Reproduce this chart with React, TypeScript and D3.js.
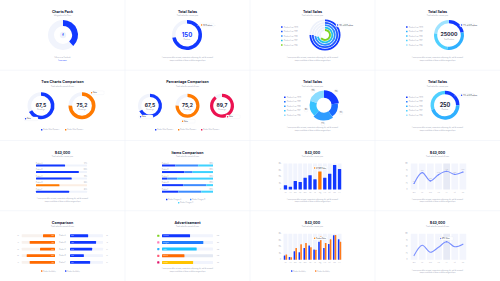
import React from 'react';
import * as d3 from 'd3';

const PW = 125;
const PH = 70.25;
const BLUE = '#1238ff';
const MID = '#2f7dff';
const LIGHT = '#2fb0ff';
const CYAN = '#4fd0ff';
const PALE = '#9fe3ff';
const ORANGE = '#ff7a00';
const RED = '#ec1250';
const GREEN = '#7ed321';
const DARK = '#20243a';
const GREY = '#9aa0b4';
const FONT = 'Inter, Roboto, sans-serif';

const titles = ['Charts Pack', 'Total Sales', 'Total Sales', 'Total Sales', 'Two Charts Comparison', 'Percentage Comparison', 'Total Sales', 'Total Sales', '$43,000', 'Items Comparison', '$43,000', '$43,000', 'Comparison', 'Advertisement', '$43,000', '$43,000'];
const subtitles = ['Infographics for Docs', 'Total sales for current year', 'Total sales for current year', 'Total sales for current year', 'Total sales for period of time', 'Total sales for period of time', 'Total sales for current year', 'Total sales for current year', 'Total sales for current year', 'Total sales for period of time', 'Total sales for current year', 'Total sales for period of time', 'Total sales for period of time', 'Total sales for period of time', 'Total sales for current year', 'Total sales for period of time'];

const chartsPackShare = [0.38];
const totalSales = [150];
const totalSalesShare = [0.72];
const legendLabels = ['Product Line 2020', 'Product Line 2019', 'Product Line 2018', 'Product Line 2017', 'Product Line 2016'];
const radialShares = [0.75, 0.75, 0.73, 0.71, 0.64];
const radialColors = [BLUE, '#1f55ff', '#2f8cff', '#22c0e8', GREEN];
const donutBigTotal = [25000];
const donutBigParts = [22, 30, 25, 23];
const donutBigColors = [BLUE, LIGHT, CYAN, PALE];
const twoValues = [67.5, 75.2];
const twoColors = [BLUE, ORANGE];
const threeValues = [67.5, 75.2, 89.7];
const threeColors = [BLUE, ORANGE, RED];
const pieShares = [23, 17, 22, 18, 20];
const pieColors = [BLUE, '#1a6bff', '#2f9cff', '#37c2ff', '#8bdcff'];
const donutSmallTotal = [250];
const donutSmallParts = [25, 45, 30];
const donutSmallColors = [BLUE, LIGHT, CYAN];
const hbarLabels = ['Product A', 'Product B', 'Product C', 'Product D', 'Product E'];
const hbarValues = [57, 84, 70, 46, 65];
const stackA = [26, 44, 10, 42, 32];
const stackB = [45, 16, 20, 45, 45];
const stackC = [29, 40, 70, 13, 23];
const stackColors = [BLUE, '#3d8bff', '#3fd2ff'];
const stackLegend = ['Product Category A', 'Product Category B', 'Product Category C'];
const months = ['Jan', 'Feb', 'Mar', 'Apr', 'May', 'Jun', 'Jul', 'Aug', 'Sep', 'Oct', 'Nov', 'Dec'];
const monthlySales = [6.4, 4.4, 13.2, 11.6, 18, 22, 15.6, 27.6, 18, 24.4, 37.6, 31.6];
const monthlySalesB = [8, 4, 18, 24, 25.6, 19.2, 15.2, 36.4, 25.6, 31.6, 38, 27.6];
const yTicks = [0, 10, 20, 30, 40];
const days = ['Mon', 'Tue', 'Wed', 'Thu', 'Fri', 'Sat', 'Sun'];
const dailyA = [23, 65, 33, 57, 70, 58, 67];
const dailyB = [16, 56, 29, 48, 69, 50, 60];
const lineTicks = [0, 25, 50, 75, 100];
const butterflyLabels = ['Product A', 'Product B', 'Product C', 'Product D', 'Product E'];
const butterflyLeft = [36, 76, 45, 85, 76];
const butterflyRight = [55, 79, 67, 42, 61];
const adLabels = ['Facebook', 'Instagram', 'Twitter', 'Pinterest', 'YouTube'];
const adValues = [55, 81, 68, 44, 61];
const adColors = [BLUE, '#1f7bff', '#1cc4ff', '#ff6a00', '#ffc400'];
const adIconColors = ['#7ed321', '#ff7ab6', '#2fb0ff', '#ff5d7a', '#e0126a'];

const TAU = Math.PI * 2;
const arcGen = d3.arc<any>();

function Ring({ cx, cy, r0, r1, start, end, color, corner = 0 }: any) {
  const d = arcGen({ innerRadius: r0, outerRadius: r1, startAngle: start, endAngle: end, cornerRadius: corner }) as string;
  return <path d={d} transform={`translate(${cx},${cy})`} fill={color} />;
}

function Title({ i }: { i: number }) {
  return (
    <g fontFamily={FONT} textAnchor="middle">
      <text x={62.5} y={13} fontSize={3.6} fontWeight={700} fill={DARK}>{titles[i]}</text>
      <text x={62.5} y={16.3} fontSize={1.7} fill={GREY}>{subtitles[i]}</text>
    </g>
  );
}

function Foot({ y = 57.5 }: { y?: number }) {
  return (
    <g fontFamily={FONT} textAnchor="middle" fontSize={1.5} fill={GREY}>
      <text x={62.5} y={y}>Lorem ipsum dolor sit amet, consectetur adipiscing elit, sed do eiusmod</text>
      <text x={62.5} y={y + 2.6}>tempor incididunt ut labore et dolore magna aliqua</text>
    </g>
  );
}

function Tip({ x, y, color, text }: any) {
  return (
    <g fontFamily={FONT}>
      <rect x={x} y={y - 1.8} width={14} height={3.6} rx={0.8} fill="#fff" stroke="#e6eaf3" strokeWidth={0.25} />
      <circle cx={x + 1.6} cy={y} r={0.7} fill={color} />
      <text x={x + 3} y={y + 0.6} fontSize={1.5} fill={DARK}>{text}</text>
    </g>
  );
}

function Legend({ x = 31, colors }: any) {
  const ys = d3.range(5).map((i) => 27 + i * 4.5);
  return (
    <g fontFamily={FONT}>
      {legendLabels.map((l, i) => (
        <g key={i}>
          <rect x={x} y={ys[i] - 0.8} width={1.6} height={1.6} rx={0.3} fill={colors[i]} />
          <text x={x + 3} y={ys[i] + 0.6} fontSize={1.6} fill={GREY}>{l}</text>
        </g>
      ))}
    </g>
  );
}

function P1() {
  const cx = 63, cy = 35;
  return (
    <g>
      <Title i={0} />
      <Ring cx={cx} cy={cy} r0={9} r1={15} start={0} end={TAU} color={'#f1f4fc'} />
      <Ring cx={cx} cy={cy} r0={9} r1={15} start={0} end={chartsPackShare[0] * TAU} color={BLUE} />
      <circle cx={cx} cy={cy} r={3.2} fill="#eef2fb" />
      <text x={cx} y={cy + 1.3} textAnchor="middle" fontSize={3.6} fontWeight={700} fill={BLUE} fontFamily={FONT}>f</text>
      <text x={62.5} y={57.5} textAnchor="middle" fontSize={1.5} fill={GREY} fontFamily={FONT}>Follow us on Facebook</text>
      <text x={62.5} y={60.5} textAnchor="middle" fontSize={1.6} fill={BLUE} fontFamily={FONT}>Learn more</text>
    </g>
  );
}

function P2() {
  const cx = 62, cy = 35;
  return (
    <g>
      <Title i={1} />
      <Ring cx={cx} cy={cy} r0={11.5} r1={15} start={0} end={TAU} color={'#f1f4fc'} />
      <Ring cx={cx} cy={cy} r0={11.5} r1={15} start={0} end={totalSalesShare[0] * TAU} color={BLUE} corner={1.5} />
      <text x={cx} y={cy + 1.5} textAnchor="middle" fontSize={6} fontWeight={700} fill={BLUE} fontFamily={FONT}>{totalSales[0]}</text>
      <text x={cx} y={cy + 5} textAnchor="middle" fontSize={1.5} fill={GREY} fontFamily={FONT}>Products</text>
      <line x1={72} y1={25.5} x2={91} y2={25.5} stroke="#e6eaf3" strokeWidth={0.3} />
      <Tip x={75} y={25} color={ORANGE} text={`${totalSales[0]} Products`} />
      <Foot y={58} />
    </g>
  );
}

function P3() {
  const cx = 75, cy = 35;
  return (
    <g>
      <Title i={2} />
      <Legend x={31} colors={radialColors} />
      {radialShares.map((s, i) => {
        const r1 = 15.5 - i * 2.4;
        const r0 = r1 - 1.8;
        return (
          <g key={i}>
            <Ring cx={cx} cy={cy} r0={r0} r1={r1} start={0} end={TAU} color={'#eef2fb'} />
            <Ring cx={cx} cy={cy} r0={r0} r1={r1} start={0} end={s * TAU} color={radialColors[i]} />
          </g>
        );
      })}
      <line x1={85} y1={25.5} x2={103} y2={25.5} stroke="#e6eaf3" strokeWidth={0.3} />
      <Tip x={86} y={25} color={BLUE} text="28% of All Products" />
      <Foot y={58} />
    </g>
  );
}

function P4() {
  const cx = 74, cy = 35;
  const pie = d3.pie<number>().sort(null).padAngle(0.03)(donutBigParts);
  return (
    <g>
      <Title i={3} />
      <Legend x={31} colors={[BLUE, LIGHT, '#37c2ff', CYAN, PALE]} />
      {pie.map((p, i) => (
        <Ring key={i} cx={cx} cy={cy} r0={11.8} r1={15} start={p.startAngle} end={p.endAngle} color={donutBigColors[i]} />
      ))}
      <text x={cx} y={cy + 1.3} textAnchor="middle" fontSize={5.2} fontWeight={700} fill={DARK} fontFamily={FONT}>{donutBigTotal[0]}</text>
      <text x={cx} y={cy + 4.6} textAnchor="middle" fontSize={1.5} fill={GREY} fontFamily={FONT}>Total Products</text>
      <line x1={84} y1={25.5} x2={103} y2={25.5} stroke="#e6eaf3" strokeWidth={0.3} />
      <Tip x={85} y={25} color={BLUE} text="22% of All Products" />
      <Foot y={58} />
    </g>
  );
}

function GaugeDonut({ cx, cy, R, t, value, color }: any) {
  const f = value.toString().replace('.', ',');
  return (
    <g>
      <Ring cx={cx} cy={cy} r0={R - t} r1={R} start={0} end={TAU} color={'#f1f4fc'} />
      <Ring cx={cx} cy={cy} r0={R - t} r1={R} start={0} end={(value / 100) * TAU} color={color} corner={t / 2} />
      <text x={cx} y={cy + 1.4} textAnchor="middle" fontSize={5} fontWeight={700} fill={DARK} fontFamily={FONT}>{f}</text>
      <text x={cx} y={cy + 4.4} textAnchor="middle" fontSize={1.4} fill={GREY} fontFamily={FONT}>Percentage</text>
    </g>
  );
}

function SmallLegend({ items, colors, ys, xs }: any) {
  return (
    <g fontFamily={FONT}>
      {items.map((t: string, i: number) => (
        <g key={i}>
          <rect x={xs[i]} y={ys[i] - 0.7} width={1.4} height={1.4} rx={0.3} fill={colors[i]} />
          <text x={xs[i] + 2.2} y={ys[i] + 0.5} fontSize={1.4} fill={GREY}>{t}</text>
        </g>
      ))}
    </g>
  );
}

function P5() {
  const xs = [41, 82];
  return (
    <g>
      <Title i={4} />
      {twoValues.map((v, i) => (
        <GaugeDonut key={i} cx={xs[i]} cy={35.5} R={13.5} t={3.6} value={v} color={twoColors[i]} />
      ))}
      <Tip x={24} y={48.5} color={BLUE} text="Sales" />
      <Tip x={90} y={22.5} color={ORANGE} text="Sales" />
      <SmallLegend items={['Product Sales Dynamics', 'Product Sales Dynamics']} colors={twoColors} ys={[59.5, 59.5]} xs={[41, 65]} />
    </g>
  );
}

function P6() {
  const xs = [25, 62.5, 97];
  return (
    <g>
      <Title i={5} />
      {threeValues.map((v, i) => (
        <GaugeDonut key={i} cx={xs[i]} cy={35.5} R={12} t={3.2} value={v} color={threeColors[i]} />
      ))}
      <Tip x={14} y={46.5} color={BLUE} text="Sales" />
      <Tip x={56} y={51} color={ORANGE} text="Sales" />
      <Tip x={101} y={46.5} color={RED} text="Sales" />
      <SmallLegend items={['Product Sales Dynamics', 'Product Sales Dynamics', 'Product Sales Dynamics']} colors={threeColors} ys={[59.5, 59.5, 59.5]} xs={[30, 53, 76]} />
    </g>
  );
}

function P7() {
  const cx = 74, cy = 35;
  const pie = d3.pie<number>().sort(null).padAngle(0.04)(pieShares);
  const radii = [15, 14, 15.3, 14.3, 14.8];
  return (
    <g>
      <Title i={6} />
      <Legend x={34} colors={pieColors} />
      {pie.map((p, i) => {
        const mid = (p.startAngle + p.endAngle) / 2;
        const lr = 18.5;
        return (
          <g key={i}>
            <Ring cx={cx} cy={cy} r0={7.5} r1={radii[i]} start={p.startAngle} end={p.endAngle} color={pieColors[i]} corner={1} />
            <circle cx={cx + lr * Math.sin(mid)} cy={cy - lr * Math.cos(mid)} r={2} fill="#fff" stroke="#e3e7f0" strokeWidth={0.3} />
            <text x={cx + lr * Math.sin(mid)} y={cy - lr * Math.cos(mid) + 0.5} textAnchor="middle" fontSize={1.4} fill={DARK} fontFamily={FONT}>{pieShares[i]}%</text>
          </g>
        );
      })}
      <Foot y={58} />
    </g>
  );
}

function P8() {
  const cx = 70, cy = 35;
  const pie = d3.pie<number>().sort(null).padAngle(0.03)(donutSmallParts);
  return (
    <g>
      <Title i={7} />
      <Legend x={31} colors={[BLUE, MID, LIGHT, CYAN, PALE]} />
      {pie.map((p, i) => (
        <Ring key={i} cx={cx} cy={cy} r0={11} r1={14.5} start={p.startAngle} end={p.endAngle} color={donutSmallColors[i]} />
      ))}
      <text x={cx} y={cy + 1.5} textAnchor="middle" fontSize={5.5} fontWeight={700} fill={DARK} fontFamily={FONT}>{donutSmallTotal[0]}</text>
      <text x={cx} y={cy + 4.6} textAnchor="middle" fontSize={1.5} fill={GREY} fontFamily={FONT}>Products</text>
      <line x1={79} y1={25.5} x2={103} y2={25.5} stroke="#e6eaf3" strokeWidth={0.3} />
      <Tip x={85} y={25} color={BLUE} text="25% of All Products" />
      <Foot y={58} />
    </g>
  );
}

function P9() {
  const x = d3.scaleLinear().domain([0, 100]).range([36, 87]);
  const y = d3.scalePoint<string>().domain(hbarLabels).range([25, 51.2]);
  return (
    <g fontFamily={FONT}>
      <Title i={8} />
      {hbarLabels.map((l, i) => {
        const isO = i === 3;
        const yy = y(l)!;
        return (
          <g key={i}>
            <text x={36} y={yy - 1.8} fontSize={1.4} fill={GREY}>{l}</text>
            <text x={87} y={yy - 1.8} fontSize={1.4} fill={GREY} textAnchor="end">{hbarValues[i]}%</text>
            <rect x={x(0)} y={yy - 1} width={x(100) - x(0)} height={2} rx={0.5} fill={isO ? '#fbeee4' : '#eff3fb'} />
            <rect x={x(0)} y={yy - 1} width={x(hbarValues[i]) - x(0)} height={2} rx={0.5} fill={isO ? ORANGE : BLUE} />
          </g>
        );
      })}
      <Foot y={58.5} />
    </g>
  );
}

function P10() {
  const x = d3.scaleLinear().domain([0, 100]).range([37, 88]);
  const y = d3.scalePoint<string>().domain(hbarLabels).range([25, 51.2]);
  const series = [stackA, stackB, stackC];
  return (
    <g fontFamily={FONT}>
      <Title i={9} />
      {hbarLabels.map((l, i) => {
        const yy = y(l)!;
        let acc = 0;
        return (
          <g key={i}>
            <text x={37} y={yy - 1.8} fontSize={1.4} fill={GREY}>{l}</text>
            <text x={88} y={yy - 1.8} fontSize={1.4} fill={GREY} textAnchor="end">100%</text>
            {series.map((s, j) => {
              const x0 = x(acc);
              acc += s[i];
              return <rect key={j} x={x0} y={yy - 1} width={x(acc) - x0} height={2} fill={stackColors[j]} />;
            })}
          </g>
        );
      })}
      <SmallLegend items={stackLegend} colors={stackColors} ys={[59, 59, 62.2]} xs={[41, 65, 53]} />
    </g>
  );
}

function VBars({ series, colors, tipText }: any) {
  const x = d3.scaleBand<string>().domain(months).range([33, 92]).paddingInner(0.32).paddingOuter(0.16);
  const y = d3.scaleLinear().domain([0, 40]).range([49, 23]);
  const n = series.length;
  const sub = d3.scaleBand<number>().domain(d3.range(n)).range([0, x.bandwidth()]).paddingInner(n > 1 ? 0.1 : 0);
  return (
    <g fontFamily={FONT}>
      {yTicks.map((t) => (
        <text key={t} x={31} y={y(t) + 0.5} fontSize={1.4} fill={GREY} textAnchor="end">{t === 0 ? '0' : `${t}k`}</text>
      ))}
      {months.map((m, i) => (
        <g key={m}>
          <rect x={x(m)! - 0.3} y={y(40)} width={x.bandwidth() + 0.6} height={y(0) - y(40)} fill="#f1f4fd" />
          {series.map((s: number[], j: number) => (
            <rect key={j} x={x(m)! + sub(j)!} y={y(s[i])} width={sub.bandwidth()} height={y(0) - y(s[i])} rx={0.3}
              fill={n === 1 && i === 7 ? ORANGE : colors[j]} />
          ))}
          <text x={x(m)! + x.bandwidth() / 2} y={52.6} fontSize={1.3} fill={GREY} textAnchor="middle">{m}</text>
        </g>
      ))}
      <Tip x={63} y={27.5} color={ORANGE} text={tipText} />
    </g>
  );
}

function P11() {
  return (
    <g>
      <Title i={10} />
      <VBars series={[monthlySales]} colors={[BLUE]} tipText="$27,600 Sales" />
      <Foot y={59} />
    </g>
  );
}

function LineChart({ data, labels, tip }: any) {
  const x = d3.scaleBand<string>().domain(days).range([35, 92]).paddingInner(0.18).paddingOuter(0.09);
  const y = d3.scaleLinear().domain([0, 100]).range([49, 23]);
  const line = d3.line<number>().x((_, i) => x(days[i])! + x.bandwidth() / 2).y((d) => y(d)).curve(d3.curveCatmullRom.alpha(0.5));
  return (
    <g fontFamily={FONT}>
      {lineTicks.map((t) => (
        <text key={t} x={32.5} y={y(t) + 0.5} fontSize={1.4} fill={GREY} textAnchor="end">{t}</text>
      ))}
      {days.map((d, i) => (
        <g key={d}>
          <rect x={x(d)} y={y(100)} width={x.bandwidth()} height={y(0) - y(100)} fill={i === 4 ? '#e7eaf5' : '#f3f5fd'} />
          <text x={x(d)! + x.bandwidth() / 2} y={52.6} fontSize={1.3} fill={GREY} textAnchor="middle">{d}</text>
        </g>
      ))}
      <path d={line(data) as string} fill="none" stroke="#7a90ff" strokeWidth={1.1} strokeLinecap="round" />
      {labels && data.map((v: number, i: number) => (
        <g key={i}>
          <circle cx={x(days[i])! + x.bandwidth() / 2} cy={y(v)} r={0.6} fill="#6f87ff" />
          <text x={x(days[i])! + x.bandwidth() / 2} y={y(v) - 1.6} fontSize={1.3} fill={GREY} textAnchor="middle">{v}%</text>
        </g>
      ))}
      {tip && <Tip x={64} y={27.7} color="#6f87ff" text="69% Sales" />}
      {tip && <circle cx={x(days[4])! + x.bandwidth() / 2} cy={y(data[4])} r={0.7} fill="#6f87ff" />}
    </g>
  );
}

function P12() {
  return (
    <g>
      <Title i={11} />
      <LineChart data={dailyA} labels={true} />
      <Foot y={59} />
    </g>
  );
}

function P13() {
  const y = d3.scalePoint<string>().domain(butterflyLabels).range([25, 51.6]);
  const xl = d3.scaleLinear().domain([0, 100]).range([55, 21.7]);
  const xr = d3.scaleLinear().domain([0, 100]).range([70, 103]);
  return (
    <g fontFamily={FONT}>
      <Title i={12} />
      {butterflyLabels.map((l, i) => {
        const yy = y(l)!;
        return (
          <g key={i}>
            <text x={18} y={yy + 0.5} fontSize={1.3} fill={GREY} textAnchor="middle">{butterflyLeft[i]}</text>
            <rect x={xl(100)} y={yy - 1.4} width={xl(0) - xl(100)} height={2.8} rx={0.5} fill="#f8f2ee" />
            <rect x={xl(butterflyLeft[i])} y={yy - 1.4} width={xl(0) - xl(butterflyLeft[i])} height={2.8} rx={0.5} fill={'#ff6a00'} />
            <text x={xl(0) - 1} y={yy + 0.5} fontSize={1.2} fill="#fff" textAnchor="end">{butterflyLeft[i]}%</text>
            <text x={62.5} y={yy + 0.5} fontSize={1.4} fill={GREY} textAnchor="middle">{l}</text>
            <rect x={xr(0)} y={yy - 1.4} width={xr(100) - xr(0)} height={2.8} rx={0.5} fill="#f1f4fd" />
            <rect x={xr(0)} y={yy - 1.4} width={xr(butterflyRight[i]) - xr(0)} height={2.8} rx={0.5} fill={BLUE} />
            <text x={xr(0) + 1} y={yy + 0.5} fontSize={1.2} fill="#fff">{butterflyRight[i]}%</text>
            <text x={107} y={yy + 0.5} fontSize={1.3} fill={GREY} textAnchor="middle">{butterflyRight[i]}</text>
          </g>
        );
      })}
      <SmallLegend items={['Product Availability', 'Product Availability']} colors={['#ff6a00', BLUE]} ys={[60.3, 60.3]} xs={[41, 65]} />
    </g>
  );
}

function P14() {
  const y = d3.scalePoint<string>().domain(adLabels).range([25, 51.7]);
  const x = d3.scaleLinear().domain([0, 100]).range([37, 88]);
  return (
    <g fontFamily={FONT}>
      <Title i={13} />
      {adLabels.map((l, i) => {
        const yy = y(l)!;
        return (
          <g key={i}>
            <rect x={32.2} y={yy - 1.1} width={2.2} height={2.2} rx={0.4} fill={adIconColors[i]} />
            <rect x={x(0)} y={yy - 1.5} width={x(100) - x(0)} height={3} rx={0.5} fill={i === 3 ? '#e4e9f3' : '#f1f4fd'} />
            <rect x={x(0)} y={yy - 1.5} width={x(adValues[i]) - x(0)} height={3} rx={0.5} fill={adColors[i]} />
            <text x={x(0) + 1} y={yy + 0.5} fontSize={1.2} fill="#fff">{l}</text>
            <text x={93} y={yy + 0.5} fontSize={1.3} fill={GREY} textAnchor="middle">{adValues[i]}k</text>
          </g>
        );
      })}
      <Foot y={58.5} />
    </g>
  );
}

function P15() {
  return (
    <g>
      <Title i={14} />
      <VBars series={[monthlySales, monthlySalesB]} colors={[BLUE, '#ff7a1a']} tipText="Product Sales" />
      <SmallLegend items={['Product Availability', 'Product Availability']} colors={[BLUE, '#ff7a1a']} ys={[60.3, 60.3]} xs={[41, 65]} />
    </g>
  );
}

function P16() {
  return (
    <g>
      <Title i={15} />
      <LineChart data={dailyB} labels={false} tip={true} />
      <Foot y={60} />
    </g>
  );
}

const panels = [P1, P2, P3, P4, P5, P6, P7, P8, P9, P10, P11, P12, P13, P14, P15, P16];

export default function App() {
  return (
    <svg width={500} height={281} viewBox="0 0 500 281" style={{ position: 'fixed', left: 0, top: 0, background: '#fff' }}>
      <rect width={500} height={281} fill="#fff" />
      {panels.map((P, i) => (
        <g key={i} transform={`translate(${(i % 4) * PW},${Math.floor(i / 4) * PH})`}>
          <P />
        </g>
      ))}
      {[1, 2, 3].map((k) => (
        <g key={k}>
          <line x1={k * PW} x2={k * PW} y1={0} y2={281} stroke="#eef1f8" strokeWidth={0.6} />
          <line x1={0} x2={500} y1={k * PH} y2={k * PH} stroke="#eef1f8" strokeWidth={0.6} />
        </g>
      ))}
    </svg>
  );
}
